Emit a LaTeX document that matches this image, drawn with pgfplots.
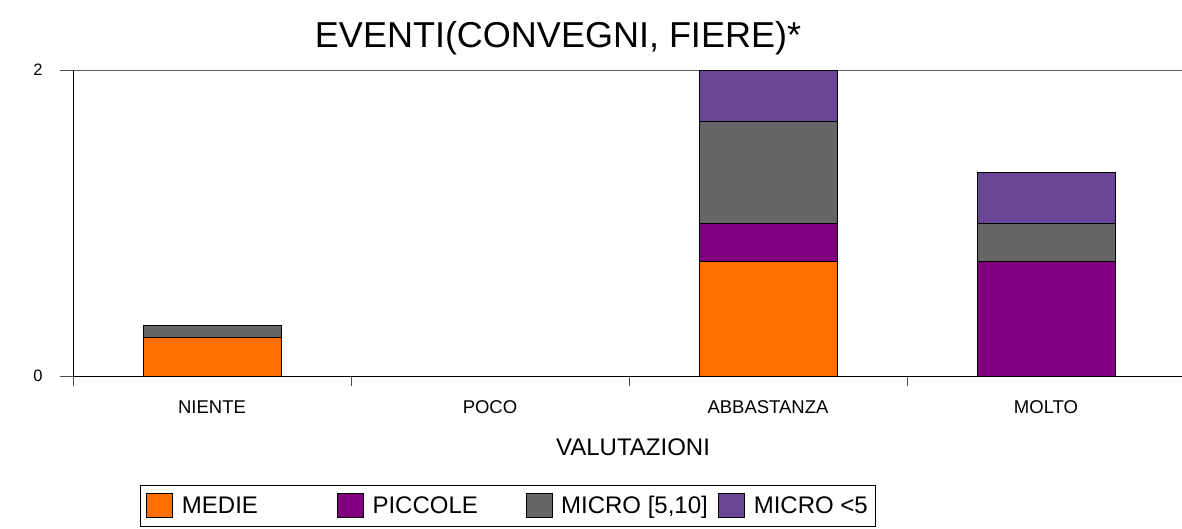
\documentclass[border=0pt]{standalone}
\usepackage{fontspec}
\setmainfont{Liberation Sans}
\usepackage{pgfplots}
\pgfplotsset{compat=1.18}
\definecolor{cMedie}{HTML}{FF6F00}
\definecolor{cPiccole}{HTML}{800080}
\definecolor{cMicroA}{HTML}{666666}
\definecolor{cMicroB}{HTML}{6A4696}
\pgfplotsset{sqlegend/.style={legend image code/.code={\draw[##1, line width=0.6pt] (0pt,-12pt) rectangle (26pt,12pt);}}}
\begin{document}
\begin{tikzpicture}
\begin{axis}[
 at={(0pt,0pt)}, anchor=south west,
 scale only axis, width=1112pt, height=306pt,
 xmin=-0.5, xmax=3.5, ymin=0, ymax=2,
 ybar stacked, bar width=138pt,
 axis x line*=bottom, axis y line*=left,
 axis line style={black, line width=0.8pt, -},
 tick align=outside,
 ytick={0,2}, ymajorgrids, grid style={black!60, line width=0.8pt},
 major tick length=13pt, minor tick length=10pt,
 ytick style={black!70, line width=0.8pt},
 xtick={0,1,2,3}, xticklabels={NIENTE,POCO,ABBASTANZA,MOLTO},
 minor xtick={-0.5,0.5,1.5,2.5,3.5},
 major x tick style={draw=none},
 minor x tick style={black!70, line width=0.8pt},
 /pgf/number format/assume math mode=true,
 xticklabel style={font=\fontsize{18.5}{20}\selectfont, anchor=base, yshift=-24pt},
 yticklabel style={font=\fontsize{16.5}{18}\selectfont, anchor=east, xshift=-14pt},
 xlabel={VALUTAZIONI},
 xlabel style={font=\fontsize{24}{26}\selectfont, at={(axis description cs:0.5036,-0.232)}, anchor=center},
 legend style={at={(axis description cs:0.0603,-0.3562)}, anchor=north west, draw=black, line width=0.6pt,
   font=\fontsize{24}{26}\selectfont, legend columns=4, inner xsep=6pt, inner ysep=8pt,
   /tikz/every even column/.append style={column sep=0pt}},
]
\addplot[fill=cMedie, draw=black, line width=0.6pt, sqlegend] coordinates {(0,0.25) (1,0) (2,0.75) (3,0)};
\addlegendentry{\hspace{7pt}\makebox[153pt][l]{MEDIE}}
\addplot[fill=cPiccole, draw=black, line width=0.6pt, sqlegend] coordinates {(0,0) (1,0) (2,0.25) (3,0.75)};
\addlegendentry{\hspace{7pt}\makebox[151pt][l]{PICCOLE}}
\addplot[fill=cMicroA, draw=black, line width=0.6pt, sqlegend] coordinates {(0,0.0833) (1,0) (2,0.6667) (3,0.25)};
\addlegendentry{\hspace{7pt}\makebox[155pt][l]{MICRO [5,10]}}
\addplot[fill=cMicroB, draw=black, line width=0.6pt, sqlegend] coordinates {(0,0) (1,0) (2,0.3333) (3,0.3333)};
\addlegendentry{\hspace{7pt}MICRO <5}
\end{axis}
\node[font=\fontsize{36}{39}\selectfont, anchor=base] at (485pt,328pt) {EVENTI(CONVEGNI, FIERE)*};
\pgfresetboundingbox
\path[use as bounding box] (-73pt,-152pt) rectangle (1109pt,376pt);
\end{tikzpicture}
\end{document}
